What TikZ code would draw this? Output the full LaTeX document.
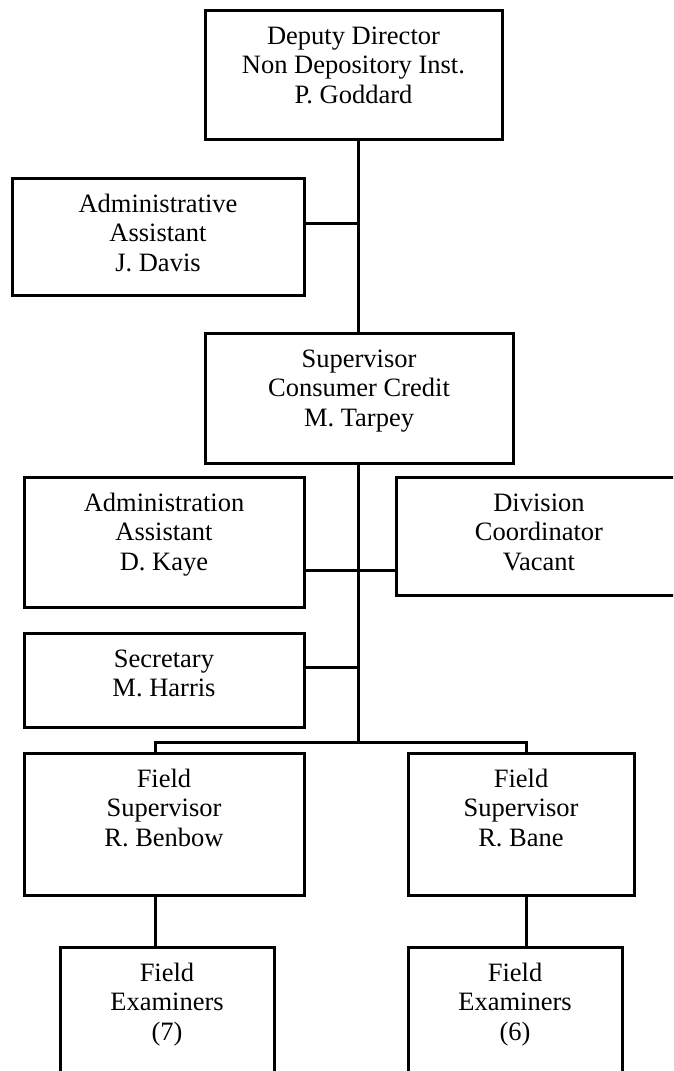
\documentclass[tikz,border=0pt]{standalone}
\usepackage{fontspec}
\setmainfont{Liberation Serif}
% box contents: width, height, centred lines hanging from the top edge
\newcommand\orgtext[3]{\parbox[c][#2][t]{#1}{\centering\rule{0pt}{34pt}#3\par}}
\begin{document}
\begin{tikzpicture}[x=1pt,y=-1pt,
  orgbox/.style={draw, line width=3pt, inner sep=0pt, outer sep=0pt,
    anchor=north west, font=\fontsize{26.5}{29.5}\selectfont},
  link/.style={line width=3pt}]
\clip (0,0) rectangle (673,1071);

% boxes
\node[orgbox] (dep) at (205,10)
  {\orgtext{297pt}{129pt}{Deputy Director\\Non Depository Inst.\\P. Goddard}};
\node[orgbox] (davis) at (12,178)
  {\orgtext{292pt}{117pt}{Administrative\\Assistant\\J. Davis}};
\node[orgbox] (sup) at (205,333)
  {\orgtext{308pt}{130pt}{Supervisor\\Consumer Credit\\M. Tarpey}};
\node[orgbox] (kaye) at (24,477)
  {\orgtext{280pt}{130pt}{Administration\\Assistant\\D. Kaye}};
\node[orgbox] (div) at (396,477)
  {\orgtext{286pt}{118pt}{Division\\Coordinator\\Vacant}};
\node[orgbox] (sec) at (24,633)
  {\orgtext{280pt}{94pt}{Secretary\\M. Harris}};
\node[orgbox] (benbow) at (24,753)
  {\orgtext{280pt}{142pt}{Field\\Supervisor\\R. Benbow}};
\node[orgbox] (bane) at (408,753)
  {\orgtext{226pt}{142pt}{Field\\Supervisor\\R. Bane}};
\node[orgbox] (exa) at (60,947)
  {\orgtext{214pt}{142pt}{Field\\Examiners\\(7)}};
\node[orgbox] (exb) at (408,947)
  {\orgtext{214pt}{142pt}{Field\\Examiners\\(6)}};

% junction points on the trunk and the branch
\coordinate (trunk) at (358,0);
\coordinate (jd) at (358,223);
\coordinate (jk) at (358,570);
\coordinate (js) at (358,667);
\coordinate (jb) at (358,742);
\coordinate (bl) at (155,742);
\coordinate (br) at (526,742);

% connectors
\draw[link] (dep.south -| trunk) -- (sup.north -| trunk);
\draw[link] (jd) -- (jd -| davis.east);
\draw[link] (sup.south -| trunk) -- (jb);
\draw[link] (jk -| kaye.east) -- (jk -| div.west);
\draw[link] (js) -- (js -| sec.east);
\draw[link] (bl |- benbow.north) -- (bl) -- (br) -- (br |- bane.north);
\draw[link] (bl |- benbow.south) -- (bl |- exa.north);
\draw[link] (br |- bane.south) -- (br |- exb.north);
\end{tikzpicture}
\end{document}
